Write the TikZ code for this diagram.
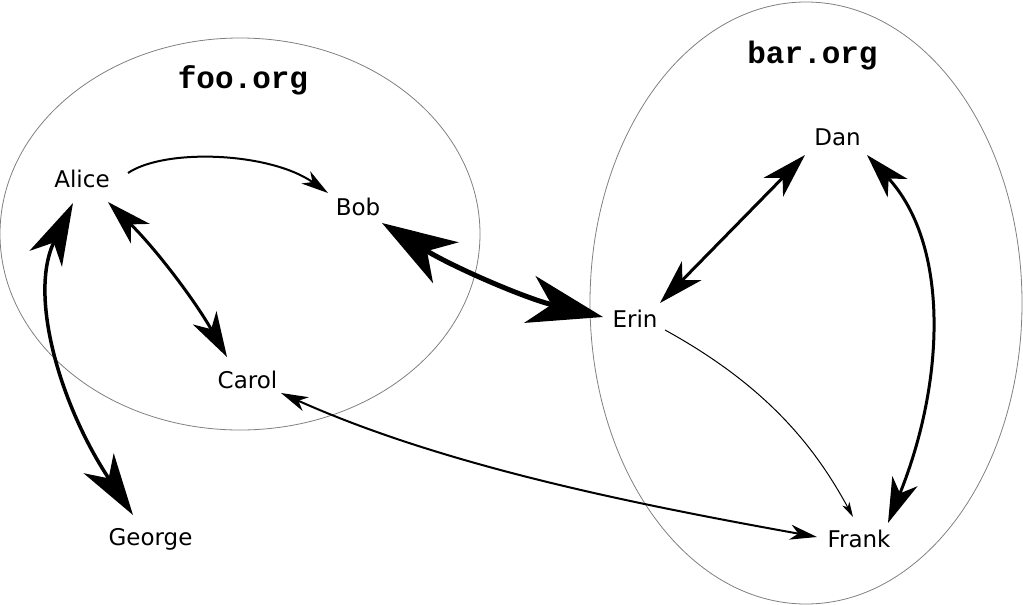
\documentclass[tikz,border=0pt]{standalone}
\usepackage{fontspec}
\setmainfont{DejaVu Sans}
\newfontfamily\orgfont{Liberation Mono}
\usetikzlibrary{arrows.meta}
\tikzset{
  tipXL/.tip={Stealth[length=75pt,width=48pt,inset=22pt]},
  tipL/.tip={Stealth[length=62pt,width=36pt,inset=18pt]},
  tipM/.tip={Stealth[length=45pt,width=27pt,inset=13pt]},
  tipS/.tip={Stealth[length=27pt,width=15pt,inset=8pt]},
  tipXS/.tip={Stealth[length=15pt,width=8pt,inset=4pt]},
}
\begin{document}
\begin{tikzpicture}[x=1pt,y=-1pt,
  person/.style={inner sep=0pt, anchor=base, font=\fontsize{23}{28}\selectfont},
  orglabel/.style={inner sep=0pt, anchor=base, font=\orgfont\bfseries\fontsize{31}{36}\selectfont},
  orgzone/.style={draw=black!50, line width=0.8pt},
  linkXL/.style={line width=5pt},
  linkL/.style={line width=3.5pt},
  linkM/.style={line width=3pt},
  linkS/.style={line width=2pt},
  linkXS/.style={line width=1pt},
]
\useasboundingbox (0,0) rectangle (1023,605);

% organisations
\draw[orgzone] (240,234) ellipse [x radius=240, y radius=196];
\draw[orgzone] (806,303) ellipse [x radius=216, y radius=301];
\node[orglabel] (foo) at (243,88) {foo.org};
\node[orglabel] (bar) at (812.5,63) {bar.org};

% people
\node[person] (Alice)  at (82,187)    {Alice};
\node[person] (Bob)    at (358,215)   {Bob};
\node[person] (Carol)  at (247.5,388) {Carol};
\node[person] (George) at (150.5,545) {George};
\node[person] (Dan)    at (837.5,145) {Dan};
\node[person] (Erin)   at (635,327)   {Erin};
\node[person] (Frank)  at (859,547)   {Frank};

% connectors
\draw[linkS, -{tipS}]
  ([shift={(46,-14)}]Alice.base) .. controls (165,148) and (270,152) .. ([shift={(-30,-22)}]Bob.base);
\draw[linkM, {tipM}-{tipM}]
  ([shift={(26,15)}]Alice.base) .. controls (155,248) and (194,299) .. ([shift={(-20.5,-31)}]Carol.base);
\draw[linkL, {tipL}-{tipL}]
  ([shift={(-9,16)}]Alice.base) .. controls (28,295) and (60,405) .. ([shift={(-17.5,-30)}]George.base);
\draw[linkXL, {tipXL}-{tipXL}]
  ([shift={(24,8)}]Bob.base) .. controls (451,266) and (524,298) .. ([shift={(-32,-10)}]Erin.base);
\draw[linkM, {tipM}-{tipM}]
  ([shift={(25,-24)}]Erin.base) -- ([shift={(-32.5,10)}]Dan.base);
\draw[linkM, {tipM}-{tipM}]
  ([shift={(29.5,10)}]Dan.base) .. controls (950,245) and (945,382) .. ([shift={(29,-24)}]Frank.base);
\draw[linkXS, -{tipXS}]
  ([shift={(30,3)}]Erin.base) .. controls (765,385) and (814,445) .. ([shift={(-6,-30)}]Frank.base);
\draw[linkS, {tipS}-{tipS}]
  ([shift={(33.5,5)}]Carol.base) .. controls (446,467) and (640,505) .. ([shift={(-42,-10)}]Frank.base);
\end{tikzpicture}
\end{document}
